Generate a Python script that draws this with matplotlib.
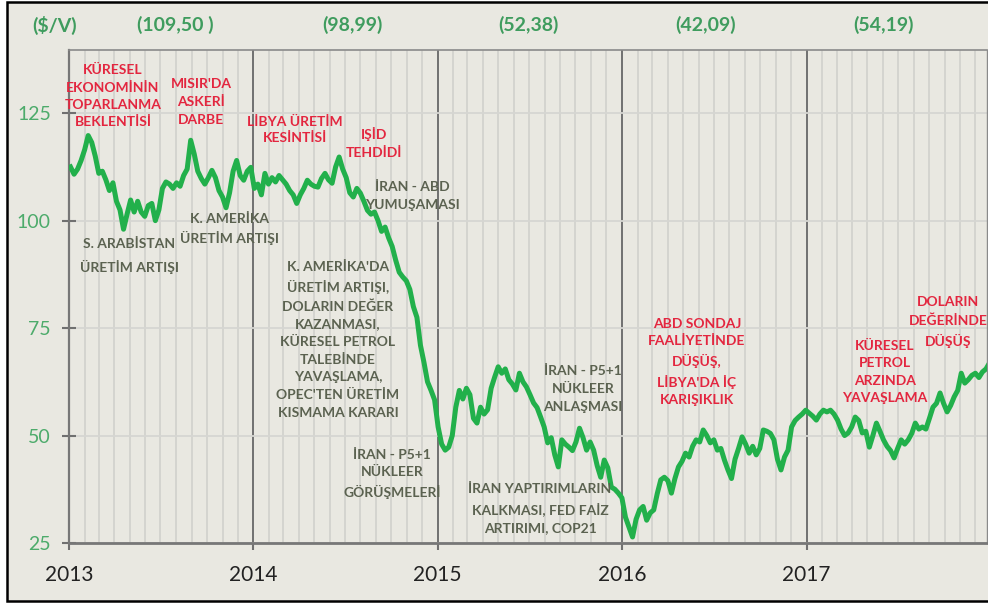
import matplotlib.dates as mdates
import pandas as pd
from matplotlib import pyplot as plt
from matplotlib.patches import Rectangle

plt.rcParams["font.family"] = ["Lato", "DejaVu Sans"]

# Brent, weekly closes ($/barrel)
brent_2013 = [112.5, 110.8, 112.0, 114.0, 116.5, 119.8, 118.2, 115.0, 111.0, 111.5,
              109.5, 107.0, 108.8, 104.5, 102.5, 98.0, 101.5, 104.8, 102.0, 104.5,
              102.0, 101.0, 103.5, 104.0, 100.0, 102.5, 107.5, 109.0, 108.5, 107.5,
              108.8, 108.0, 110.5, 112.0, 118.7, 115.5, 111.5, 109.8, 108.5, 110.0,
              111.7, 110.0, 107.0, 105.5, 103.0, 106.5, 111.5, 114.0, 110.5, 109.4,
              111.5, 112.4]
brent_2014 = [107.5, 108.5, 106.0, 111.0, 108.5, 110.0, 109.0, 110.5, 109.5, 108.5,
              107.0, 106.0, 104.0, 106.0, 107.5, 109.4, 108.5, 108.0, 107.8, 109.8,
              111.0, 109.5, 108.7, 112.5, 114.8, 112.0, 110.0, 106.5, 105.5, 107.5,
              106.4, 104.5, 102.4, 101.5, 102.0, 100.0, 97.5, 98.5, 96.0, 94.0,
              90.8, 88.0, 86.9, 86.0, 84.0, 80.0, 77.5, 71.0, 67.0, 62.5,
              60.5, 58.3]
brent_2015 = [52.0, 48.0, 46.6, 47.3, 50.0, 56.6, 60.5, 58.5, 61.0, 59.5,
              54.0, 52.9, 56.6, 55.0, 56.0, 61.0, 63.6, 66.0, 64.5, 65.5,
              63.0, 62.0, 60.6, 64.5, 62.5, 61.3, 59.5, 57.6, 56.5, 54.3,
              52.0, 48.3, 49.5, 45.5, 42.7, 49.0, 48.0, 47.3, 46.5, 48.5,
              51.7, 49.5, 46.6, 48.5, 46.6, 43.0, 40.3, 44.3, 42.5, 38.0,
              37.5, 36.6]
brent_2016 = [35.5, 31.0, 28.7, 26.4, 30.5, 32.7, 33.5, 30.3, 32.0, 32.7,
              36.5, 39.7, 40.3, 39.5, 36.6, 40.0, 42.7, 44.0, 45.9, 45.0,
              47.5, 49.0, 48.5, 51.3, 50.0, 48.3, 49.0, 46.6, 47.0, 44.3,
              42.0, 40.0, 44.5, 47.0, 49.7, 48.0, 45.9, 47.5, 45.5, 47.0,
              51.3, 51.0, 50.5, 49.0, 44.5, 42.0, 45.0, 46.6, 52.0, 53.5,
              54.3, 55.0, 55.9]
brent_2017 = [55.2, 54.5, 53.6, 55.0, 55.9, 55.5, 55.9, 55.0, 53.6, 51.5,
              50.0, 50.6, 52.0, 54.3, 53.5, 50.6, 51.0, 47.3, 50.0, 52.9,
              51.0, 49.0, 47.5, 46.5, 44.8, 47.0, 49.0, 48.0, 49.0, 50.5,
              52.9, 51.5, 52.0, 51.5, 54.0, 56.6, 57.5, 59.9, 57.5, 55.5,
              57.0, 59.0, 60.5, 64.5, 62.2, 63.0, 64.0, 64.5, 63.5, 64.8,
              65.5, 66.9]

# yearly averages shown above each year
avg_labels = ["(109,50 )", "(98,99)", "(52,38)", "(42,09)", "(54,19)"]
yticks = [25, 50, 75, 100, 125]

red_notes = [
    "KÜRESEL\nEKONOMİNİN\nTOPARLANMA\nBEKLENTİSİ",
    "MISIR'DA\nASKERİ\nDARBE",
    "LİBYA ÜRETİM\nKESİNTİSİ",
    "IŞİD\nTEHDİDİ",
    "ABD SONDAJ\nFAALİYETİNDE\nDÜŞÜŞ,\nLİBYA'DA İÇ\nKARIŞIKLIK",
    "KÜRESEL\nPETROL\nARZINDA\nYAVAŞLAMA",
    "DOLARIN\nDEĞERİNDE\nDÜŞÜŞ",
]
grey_notes = [
    "S. ARABİSTAN\nÜRETİM ARTIŞI",
    "K. AMERİKA\nÜRETİM ARTIŞI",
    "İRAN - ABD\nYUMUŞAMASI",
    "K. AMERİKA'DA\nÜRETİM ARTIŞI,\nDOLARIN DEĞER\nKAZANMASI,\nKÜRESEL PETROL\n"
    "TALEBİNDE\nYAVAŞLAMA,\nOPEC'TEN ÜRETİM\nKISMAMA KARARI",
    "İRAN - P5+1\nNÜKLEER\nGÖRÜŞMELERİ",
    "İRAN YAPTIRIMLARIN\nKALKMASI, FED FAİZ\nARTIRIMI, COP21",
    "İRAN - P5+1\nNÜKLEER\nANLAŞMASI",
]

# label centres in pixels of the 988x603 canvas, plus line spacing
red_pos = [(113, 96), (201, 102), (295, 130), (374, 143), (697, 362), (885, 372), (948, 322)]
red_spacing = [1.5, 1.56, 1.48, 1.62, 1.54, 1.56, 1.56]
grey_pos = [(129, 256), (229, 229), (412, 196), (338, 340), (392, 474), (540, 509), (583, 389)]
grey_spacing = [1.9, 1.48, 1.64, 1.57, 1.52, 1.6, 1.56]
avg_pos = [175, 352, 528, 706, 883]

BG = "#e9e8e1"
LINE = "#22b04b"
RED = "#e3263f"
OLIVE = "#5b6250"
GREEN_TXT = "#3f9c5e"

W, H = 988, 603

weekly = brent_2013 + brent_2014 + brent_2015 + brent_2016 + brent_2017
dates = pd.date_range("2013-01-04", periods=len(weekly), freq="W-FRI")

fig = plt.figure(figsize=(W / 100, H / 100), dpi=100, facecolor="white")
frame = Rectangle((7 / W, 1 - 601 / H), 1.0, 599 / H, transform=fig.transFigure,
                  facecolor=BG, edgecolor="black", lw=1.8, zorder=-1)
fig.patches.append(frame)

ax = fig.add_axes([69 / W, 1 - 543 / H, (987 - 69) / W, 493 / H])
ax.set_facecolor(BG)
ax.plot(dates, weekly, color=LINE, lw=3.6, solid_joinstyle="round", zorder=3)

ax.set_xlim(pd.Timestamp("2013-01-01"), pd.Timestamp("2017-12-24"))
ax.set_ylim(25, 139.7)
ax.set_yticks(yticks)

ax.xaxis.set_major_locator(mdates.YearLocator())
ax.xaxis.set_major_formatter(mdates.DateFormatter("%Y"))
ax.xaxis.set_minor_locator(mdates.MonthLocator())

ax.grid(which="minor", axis="x", color="#d2d2ce", lw=1.3)
ax.grid(which="major", axis="x", color="#707070", lw=1.4)
ax.grid(which="major", axis="y", color="#d6d6d2", lw=1.3)
ax.set_axisbelow(True)

ax.tick_params(axis="x", which="minor", length=0)
ax.tick_params(axis="x", which="major", direction="out", length=5, width=1.5,
               color="#707070", pad=11, labelsize=15, labelcolor="#222222")
ax.tick_params(axis="y", direction="inout", length=10, width=1.5, color="#707070",
               pad=8, labelsize=14, labelcolor="#4dab6b")

for side, col, lw in [("left", "#777777", 1.6), ("bottom", "#777777", 2.0),
                      ("top", "#8a8a8a", 1.2), ("right", "#8a8a8a", 1.0)]:
    ax.spines[side].set_color(col)
    ax.spines[side].set_linewidth(lw)

fig.text(55 / W, 1 - 25 / H, "($/V)", ha="center", va="center",
         fontsize=14, fontweight="bold", color=GREEN_TXT)
for label, px in zip(avg_labels, avg_pos):
    fig.text(px / W, 1 - 25 / H, label, ha="center", va="center",
             fontsize=14, fontweight="bold", color=GREEN_TXT)

for txt, (px, py), ls in zip(red_notes, red_pos, red_spacing):
    fig.text(px / W, 1 - py / H, txt, ha="center", va="center", multialignment="center",
             fontsize=10, fontweight="bold", color=RED, linespacing=ls, zorder=5)

for txt, (px, py), ls in zip(grey_notes, grey_pos, grey_spacing):
    fig.text(px / W, 1 - py / H, txt, ha="center", va="center", multialignment="center",
             fontsize=10, fontweight="bold", color=OLIVE, linespacing=ls, zorder=5)

fig.savefig("out.png", dpi=100, facecolor=fig.get_facecolor())
